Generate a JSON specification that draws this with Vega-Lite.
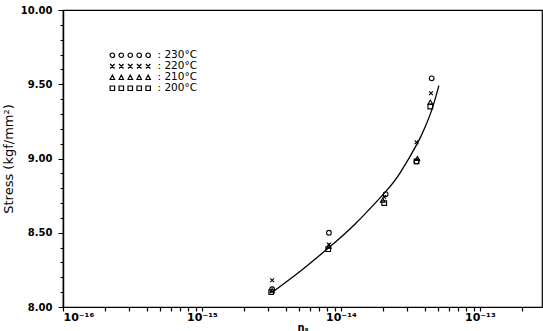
{
  "$schema": "https://vega.github.io/schema/vega-lite/v6.json",
  "width": 479,
  "height": 297,
  "autosize": "none",
  "padding": {"left": 63, "top": 10, "right": 1, "bottom": 24},
  "background": "white",
  "config": {
    "view": {"stroke": "black", "strokeWidth": 1.2},
    "font": "DejaVu Sans",
    "axis": {"domainColor": "black", "labelColor": "black", "titleColor": "black", "grid": false, "labelFont": "DejaVu Sans", "titleFont": "DejaVu Sans"}
  },
  "datasets": {
    "fit": [
      {"rate": 3.3e-15, "stress": 8.108},
      {"rate": 5.07e-15, "stress": 8.239},
      {"rate": 8.2e-15, "stress": 8.400},
      {"rate": 1.26e-14, "stress": 8.557},
      {"rate": 2.07e-14, "stress": 8.770},
      {"rate": 2.66e-14, "stress": 8.901},
      {"rate": 3.52e-14, "stress": 9.095},
      {"rate": 4.02e-14, "stress": 9.208},
      {"rate": 4.52e-14, "stress": 9.331},
      {"rate": 5.07e-14, "stress": 9.491}
    ],
    "pts": [
      {"rate": 3.2e-15, "stress": 8.12, "temp": "230°C"},
      {"rate": 8.2e-15, "stress": 8.50, "temp": "230°C"},
      {"rate": 2.1e-14, "stress": 8.76, "temp": "230°C"},
      {"rate": 3.5e-14, "stress": 8.98, "temp": "230°C"},
      {"rate": 4.5e-14, "stress": 9.54, "temp": "230°C"},
      {"rate": 3.2e-15, "stress": 8.18, "temp": "220°C"},
      {"rate": 8.2e-15, "stress": 8.42, "temp": "220°C"},
      {"rate": 2.05e-14, "stress": 8.74, "temp": "220°C"},
      {"rate": 3.5e-14, "stress": 9.11, "temp": "220°C"},
      {"rate": 4.45e-14, "stress": 9.44, "temp": "220°C"},
      {"rate": 3.2e-15, "stress": 8.11, "temp": "210°C"},
      {"rate": 8.2e-15, "stress": 8.41, "temp": "210°C"},
      {"rate": 2.0e-14, "stress": 8.72, "temp": "210°C"},
      {"rate": 3.55e-14, "stress": 9.00, "temp": "210°C"},
      {"rate": 4.4e-14, "stress": 9.38, "temp": "210°C"},
      {"rate": 3.15e-15, "stress": 8.10, "temp": "200°C"},
      {"rate": 8.1e-15, "stress": 8.39, "temp": "200°C"},
      {"rate": 2.05e-14, "stress": 8.70, "temp": "200°C"},
      {"rate": 3.5e-14, "stress": 8.98, "temp": "200°C"},
      {"rate": 4.4e-14, "stress": 9.35, "temp": "200°C"}
    ]
  },
  "encoding": {
    "x": {
      "field": "rate", "type": "quantitative",
      "scale": {"type": "log", "domain": [1e-16, 2.8e-13], "nice": false},
      "axis": {
        "title": "nₛ",
        "titleFontSize": 10, "titleFontWeight": "bold", "titlePadding": 0,
        "tickCount": 40,
        "labelExpr": "abs(log(datum.value)/LN10 - round(log(datum.value)/LN10)) < 0.001 ? '10' + replace(replace(replace(replace(replace(replace(toString(round(log(datum.value)/LN10)), '-', '⁻'), '1', '¹'), '6', '⁶'), '5', '⁵'), '4', '⁴'), '3', '³') : ''",
        "labelOverlap": false,
        "labelFontSize": 11, "labelFontWeight": "bold", "labelPadding": 0,
        "ticks": true, "tickColor": "#000000", "tickWidth": 1.2, "tickSize": 4, "tickOpacity": 1,
        "zindex": 2,
        "domainWidth": 1.2
      }
    },
    "y": {
      "field": "stress", "type": "quantitative",
      "scale": {"domain": [8, 10], "nice": false, "zero": false},
      "axis": {
        "title": "Stress (kgf/mm²)",
        "titleFontSize": 13, "titleFontWeight": "normal", "titlePadding": 5,
        "tickCount": 20,
        "labelExpr": "abs(datum.value*2 - round(datum.value*2)) < 0.001 ? format(datum.value, '.2f') : ''",
        "labelOverlap": false,
        "labelFontSize": 10, "labelFontWeight": "bold", "labelPadding": 6,
        "ticks": true, "tickColor": "#000000", "tickWidth": 1,
        "tickSize": {"condition": {"test": "abs(datum.value*2 - round(datum.value*2)) < 0.001", "value": 5}, "value": 3},
        "domainWidth": 1.5
      }
    }
  },
  "layer": [
    {
      "data": {"name": "fit"},
      "mark": {"type": "line", "color": "black", "strokeWidth": 1.3, "interpolate": "natural"}
    },
    {
      "data": {"name": "pts"},
      "mark": {"type": "point", "filled": false, "stroke": "black", "strokeWidth": 1.1, "size": 22, "opacity": 1},
      "encoding": {
        "shape": {
          "field": "temp", "type": "nominal",
          "scale": {"domain": ["230°C", "220°C", "210°C", "200°C"], "range": ["circle", "M-0.8,-0.8L0.8,0.8M-0.8,0.8L0.8,-0.8", "triangle-up", "square"]},
          "legend": null
        }
      }
    },
    {
      "data": {"name": "pts"},
      "mark": {"type": "point", "filled": false, "stroke": "black", "strokeWidth": 1.1, "size": 20, "opacity": 0},
      "encoding": {
        "shape": {
          "field": "temp", "type": "nominal",
          "scale": {"domain": ["230°C", "220°C", "210°C", "200°C"], "range": [
            "M-9,0a1,1 0 1,0 2,0a1,1 0 1,0 -2,0M-5,0a1,1 0 1,0 2,0a1,1 0 1,0 -2,0M-1,0a1,1 0 1,0 2,0a1,1 0 1,0 -2,0M3,0a1,1 0 1,0 2,0a1,1 0 1,0 -2,0M7,0a1,1 0 1,0 2,0a1,1 0 1,0 -2,0",
            "M-9,-1L-7,1M-9,1L-7,-1M-5,-1L-3,1M-5,1L-3,-1M-1,-1L1,1M-1,1L1,-1M3,-1L5,1M3,1L5,-1M7,-1L9,1M7,1L9,-1",
            "M-9,1L-8,-1L-7,1ZM-5,1L-4,-1L-3,1ZM-1,1L0,-1L1,1ZM3,1L4,-1L5,1ZM7,1L8,-1L9,1Z",
            "M-9,-1h2v2h-2ZM-5,-1h2v2h-2ZM-1,-1h2v2h-2ZM3,-1h2v2h-2ZM7,-1h2v2h-2Z"
          ]},
          "legend": {
            "title": null, "orient": "none", "legendX": 62, "legendY": 40,
            "labelExpr": "':  ' + datum.label",
            "labelFontSize": 10.5, "labelColor": "black", "labelFont": "DejaVu Sans",
            "symbolStrokeColor": "black", "symbolFillColor": "transparent", "symbolSize": 20, "symbolStrokeWidth": 1.2, "symbolOpacity": 1,
            "rowPadding": -2, "labelOffset": 22
          }
        }
      }
    }
  ],
  "resolve": {"scale": {"shape": "independent"}, "legend": {"shape": "independent"}}
}
